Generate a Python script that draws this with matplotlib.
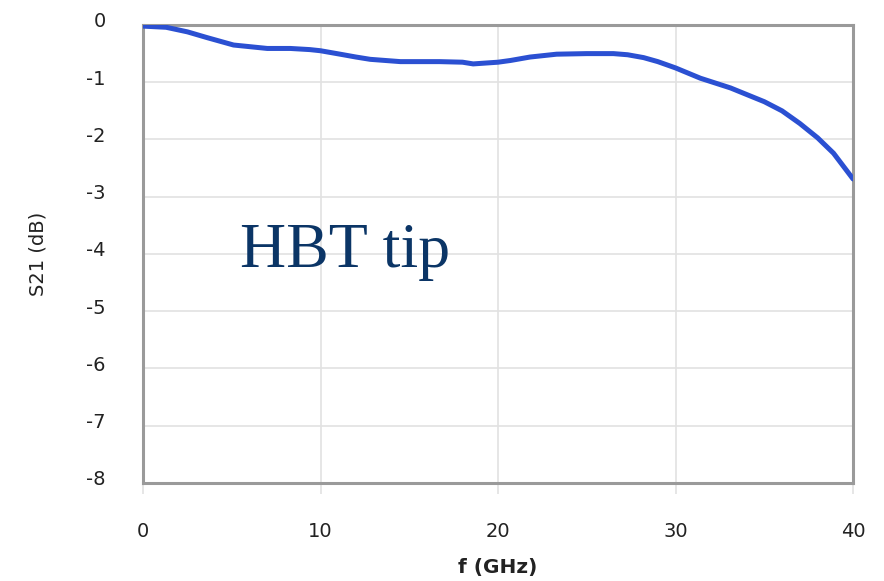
import numpy as np
import matplotlib.pyplot as plt
import matplotlib.transforms as mtransforms

plt.rcParams['axes.unicode_minus'] = False

# S21 of HBT tip
freq_ghz = [0, 1.3, 2.5, 3.6, 5.1, 7, 8.3, 9.4, 10, 11.1, 12, 12.8, 14.5, 16.7,
            18, 18.6, 20, 20.7, 21.8, 23.3, 25, 26.5, 27.3, 28.2, 29, 30, 31.4,
            33.1, 35, 36, 37, 38, 38.9, 40]
s21_db = [-0.02, -0.04, -0.12, -0.22, -0.35, -0.41, -0.41, -0.43, -0.45, -0.51,
          -0.56, -0.6, -0.64, -0.64, -0.65, -0.68, -0.65, -0.62, -0.56, -0.51,
          -0.5, -0.5, -0.52, -0.57, -0.64, -0.75, -0.93, -1.1, -1.34, -1.5,
          -1.72, -1.97, -2.24, -2.69]
x_ticks = [0, 10, 20, 30, 40]
y_ticks = [0, -1, -2, -3, -4, -5, -6, -7, -8]

fig = plt.figure(figsize=(8.84, 5.81), dpi=100)
ax = fig.add_axes([0.1618, 0.1687, 0.8032, 0.7883])

ax.plot(freq_ghz, s21_db, color='#2b50d2', lw=3.6, solid_capstyle='round',
        solid_joinstyle='round', zorder=3)

ax.set_xlim(0, 40)
ax.set_ylim(-8, 0)
ax.set_xticks(x_ticks)
ax.set_yticks(y_ticks)
ax.grid(True, color='#e2e2e2', lw=1.2)
for s in ax.spines.values():
    s.set_color('#9a9a9a')
    s.set_linewidth(2.2)

ax.tick_params(axis='x', length=8, color='#e2e2e2', width=1.2, pad=20, labelsize=14, labelcolor='#222222')
ax.tick_params(axis='y', length=0, pad=27, labelsize=14, labelcolor='#222222')

# y tick labels sit a little above their gridlines in the original
shift = mtransforms.ScaledTranslation(0, 5 / 100, fig.dpi_scale_trans)
for lbl in ax.get_yticklabels():
    lbl.set_transform(lbl.get_transform() + shift)

ax.set_xlabel('f (GHz)', fontsize=14.5, fontweight='bold', color='#222222')
ax.xaxis.set_label_coords(0.5, -0.163)
ax.set_ylabel('S21 (dB)', fontsize=14, color='#222222')
ax.yaxis.set_label_coords(-0.135, 0.5)

ax.text(5.45, -4.22, 'HBT tip', family='Liberation Serif', fontsize=46, color='#0b3566')

fig.savefig('out.png', dpi=100)
